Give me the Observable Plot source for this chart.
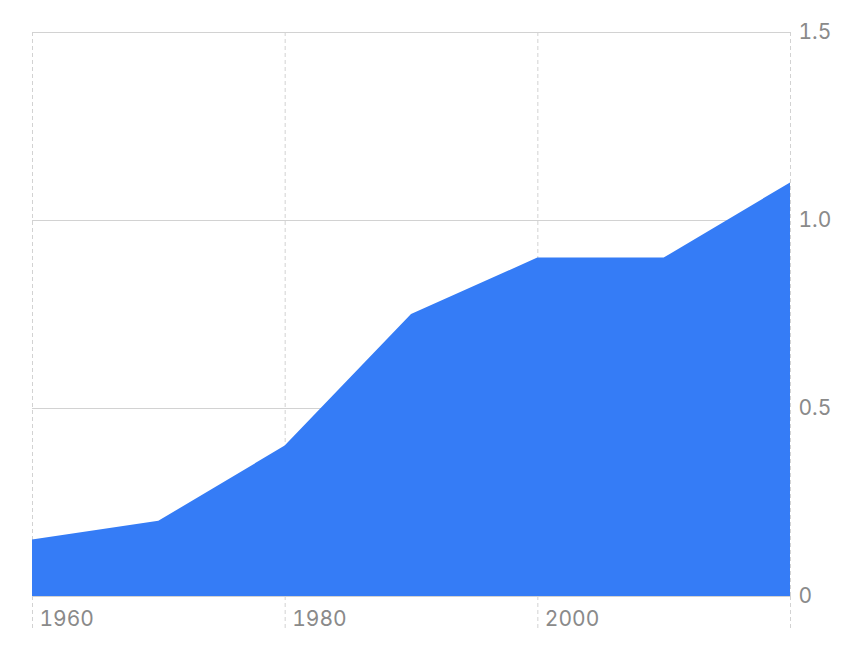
<!DOCTYPE html>
<html>
<head>
<meta charset="utf-8">
<script src="https://cdn.jsdelivr.net/npm/d3@7"></script>
<script src="https://cdn.jsdelivr.net/npm/@observablehq/plot@0.6"></script>
<style>
  html, body { margin: 0; padding: 0; background: #fff; }
  #chart { width: 864px; height: 664px; }
</style>
</head>
<body>
<div id="chart"></div>
<script>
const years = [1960, 1970, 1980, 1990, 2000, 2010, 2020];
const values = [0.15, 0.2, 0.4, 0.75, 0.9, 0.9, 1.1];
const xGridTicks = [1960, 1980, 2000, 2020];
const xLabelTicks = [1960, 1980, 2000];
const yTicks = [0, 0.5, 1.0, 1.5];

const data = years.map((year, i) => ({year, value: values[i]}));

const gridColor = "#d2d2d2";
const textColor = "#8a8a8a";

const chart = Plot.plot({
  width: 864,
  height: 664,
  marginLeft: 32,
  marginRight: 74,
  marginTop: 32,
  marginBottom: 68,
  style: {fontFamily: "Inter, 'Liberation Sans', sans-serif", fontSize: "21px", color: textColor, background: "#fff"},
  x: {domain: [1960, 2020]},
  y: {domain: [0, 1.5]},
  marks: [
    Plot.gridY(yTicks, {stroke: gridColor, strokeOpacity: 1, strokeWidth: 1}),
    Plot.gridX(xGridTicks, {stroke: gridColor, strokeOpacity: 1, strokeWidth: 1, strokeDasharray: "4,3"}),
    Plot.axisX(xGridTicks, {anchor: "bottom", tickSize: 32, stroke: gridColor, strokeOpacity: 1, strokeDasharray: "4,3", text: null, label: null}),
    Plot.areaY(data, {x: "year", y: "value", fill: "#357cf6"}),
    Plot.axisX(xLabelTicks, {anchor: "bottom", tickSize: 0, tickPadding: 15, textAnchor: "start", dx: 7, fill: textColor, tickFormat: d => String(d), label: null}),
    Plot.axisY(yTicks, {anchor: "right", tickSize: 0, tickPadding: 8, fill: textColor, tickFormat: d => d === 0 ? "0" : d.toFixed(1), label: null})
  ]
});
document.getElementById("chart").appendChild(chart);
</script>
</body>
</html>
